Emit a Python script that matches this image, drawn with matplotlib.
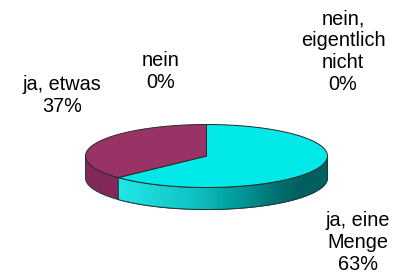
import numpy as np
import matplotlib
matplotlib.use("Agg")
import matplotlib.pyplot as plt
from matplotlib.patches import Polygon
from matplotlib.colors import LinearSegmentedColormap

# Survey answers (share in %)
categories = ["ja, eine\nMenge", "ja, etwas", "nein", "nein,\neigentlich\nnicht"]
values = [63, 37, 0, 0]
top_colors = ["#00e8e8", "#993366", "#ffffcc", "#ccffff"]
side_colors = ["#00b0b0", "#822858", "#cccc99", "#99cccc"]

# label anchor points in pixel coords (layout only)
label_pos = [(358, 243), (62, 96), (161, 72), (343, 52)]

W, H = 403, 277
fig = plt.figure(figsize=(W / 100, H / 100), dpi=100)
ax = fig.add_axes([0, 0, 1, 1])
ax.set_xlim(0, W)
ax.set_ylim(H, 0)
ax.axis("off")

# pie geometry
cx, cy = 206.5, 156.0
rx, ry = 121.0, 31.5
depth = 22.0


def arc(t0, t1, n=120, dy=0.0):
    t = np.radians(np.linspace(t0, t1, n))
    return np.column_stack([cx + rx * np.cos(t), cy - ry * np.sin(t) + dy])


total = float(sum(values))
angles = []
start = 90.0
for v in values:
    end = start - v / total * 360.0
    angles.append((start, end))
    start = end

# side walls (front half only: t in [-180, 0])
grad_cmap = LinearSegmentedColormap.from_list(
    "side",
    [(0.0, "#22e6e6"), (0.35, "#10c4c4"), (0.6, "#009494"),
     (0.75, "#007272"), (0.88, "#005e5e"), (1.0, "#006262")])

for i, (a0, a1) in enumerate(angles):
    if values[i] == 0:
        continue
    segs = []
    for k in (0, -360):
        lo, hi = a1 + k, a0 + k
        s0, s1 = max(lo, -180.0), min(hi, 0.0)
        if s1 > s0:
            segs.append((s0, s1))
    for s0, s1 in segs:
        upper = arc(s1, s0)
        lower = arc(s0, s1, dy=depth)
        poly = np.vstack([upper, lower])
        patch = Polygon(poly, closed=True, facecolor=side_colors[i],
                        edgecolor="#1f3b3b", lw=0.7, zorder=2)
        ax.add_patch(patch)
        if i == 0:
            # shaded wall, light on the left, dark on the right
            x0, x1 = poly[:, 0].min(), poly[:, 0].max()
            xs = np.linspace(cx - rx, cx + rx, 256)
            g = np.interp(xs, [x0, x1], [0, 1]).reshape(1, -1)
            im = ax.imshow(g, cmap=grad_cmap, vmin=0, vmax=1, aspect="auto",
                           extent=(cx - rx, cx + rx, cy + depth + ry + 2, cy - ry),
                           zorder=2.5, interpolation="bilinear")
            im.set_clip_path(patch)
            ax.add_patch(Polygon(poly, closed=True, facecolor="none",
                                 edgecolor="#1f3b3b", lw=0.7, zorder=3))

# top faces
for i, (a0, a1) in enumerate(angles):
    if values[i] == 0:
        continue
    pts = np.vstack([[cx, cy], arc(a0, a1), [cx, cy]])
    ax.add_patch(Polygon(pts, closed=True, facecolor=top_colors[i],
                         edgecolor="#2a2a2a", lw=0.7, zorder=4))

# labels
for cat, v, (lx, ly) in zip(categories, values, label_pos):
    ax.text(lx, ly, f"{cat}\n{v}%", ha="center", va="center",
            fontsize=14.3, family="Liberation Sans", linespacing=1.2,
            color="black", zorder=5)

fig.savefig("out.png", dpi=100)
